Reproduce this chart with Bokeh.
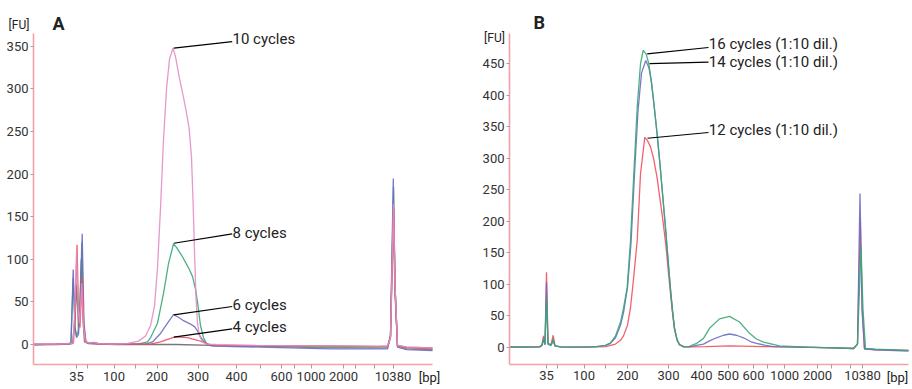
from bokeh.plotting import figure
from bokeh.layouts import row
from bokeh.models import FixedTicker, Label, LinearAxis
from bokeh.embed import file_html
from bokeh.resources import INLINE

# ---- x axis: migration position of the ladder fragments (bp) ----
ladder_bp = [35, 50, 100, 150, 200, 300, 400, 500, 600, 700, 1000, 2000, 3000, 7000, 10380]
ladder_pos_a = [40, 51, 77.5, 99, 120.5, 161.5, 200, 224, 245, 258, 274.5, 307, 319, 338, 356.5]
ladder_pos_b = [41, 52, 78.5, 100, 122, 163, 196, 222.5, 248, 262, 279, 312, 326, 345, 357]
labels_a = [35, 100, 200, 300, 400, 600, 1000, 2000, 10380]
labels_b = [35, 100, 200, 300, 400, 500, 600, 1000, 2000, 10380]
yticks_a = [0, 50, 100, 150, 200, 250, 300, 350]
yticks_b = [0, 50, 100, 150, 200, 250, 300, 350, 400, 450]

# ---- panel A traces (migration position, FU) ----
a_blank = [(-3, -0.5), (20, 0), (33, 0.5), (36, 1), (38.5, 30), (40.3, 70), (42, 20), (43, 35), (44.8, 100),
           (46.5, 30), (48, 3), (52, 1), (60, 0.5), (80, 0), (110, 0), (140, 0), (175, -1), (220, -1.5),
           (280, -2), (340, -2.5), (351, -2), (354, 10), (356.7, 150), (358.5, 60), (361, -1), (370, -3), (396, -4)]
a_10cyc = [(-3, 0.5), (20, 0.5), (33, 1), (36.5, 2), (38.5, 45), (40, 108), (41.8, 40), (43, 25), (45.3, 72),
           (47, 20), (49, 3), (53, 1.5), (57, 2.5), (62, 1), (75, 0.5), (90, 1), (102, 4), (109, 10), (114, 22),
           (118, 45), (121, 90), (124, 160), (127, 240), (130, 300), (133, 335), (136.5, 348), (139, 338),
           (143, 312), (147, 290), (150, 272), (152.5, 255), (155, 220), (156.5, 170), (158, 110), (159.5, 55),
           (161, 25), (163, 10), (166, 3), (170, 0.5), (180, 0), (220, -1), (280, -1.5), (340, -2), (351, -2),
           (354, 8), (357, 165), (358.5, 70), (361, -1), (370, -3), (396, -4)]
a_8cyc = [(-3, 0), (20, 0.5), (33, 1), (34.5, 3), (36.7, 78), (38.5, 20), (40, 10), (41.5, 15), (43.5, 40),
          (45.3, 120), (47, 25), (49, 3), (53, 1.5), (57, 2), (62, 1), (75, 0.5), (90, 0.5), (101, 0.5),
          (111, 3), (114, 8), (121, 25), (127, 60), (132, 95), (137, 118), (140, 114), (146, 103), (152, 90),
          (156, 80), (159, 65), (161, 50), (164, 22), (167, 8), (170, 1), (176, -1), (220, -2), (280, -3.5),
          (340, -4), (351, -4), (354, 10), (357, 185), (358.5, 70), (361, -2), (370, -5), (396, -6)]
a_6cyc = [(-3, 0), (20, 0.5), (33, 1), (34.5, 3), (36.7, 88), (38.5, 20), (40, 8), (42, 12), (44, 45),
          (45.7, 130), (47.5, 25), (49.5, 3), (53, 1.5), (57, 2), (62, 1), (75, 0.5), (90, 0.5), (109, 0.5),
          (116, 3), (124, 13), (131, 25), (137, 35), (142, 32), (147, 28), (154, 24), (158, 21), (161, 16),
          (164, 9), (167, 4), (171, 0), (176, -2), (224, -3), (294, -5), (344, -5), (351, -5), (354, 10),
          (356.8, 195), (358.5, 70), (361, -3), (370, -6), (396, -7)]
a_4cyc = [(-3, 0.5), (20, 0.5), (33, 1), (37, 2), (38.8, 40), (40.5, 117), (42, 40), (43.5, 20), (45.7, 80),
          (47.5, 15), (49.5, 3), (53, 1.5), (57, 2.5), (62, 1), (75, 0.5), (90, 0.5), (114, 0.5), (124, 3),
          (131, 6), (139, 9), (151, 8), (161, 5), (166, 3), (171, 0.5), (180, -1), (240, -1.5), (300, -2),
          (345, -2.5), (351, -2.5), (354, 8), (357.2, 160), (358.8, 60), (361, -2), (370, -4), (396, -5)]

# ---- panel B traces ----
b_16cyc = [(4, 0), (20, 0), (34, 0.5), (36.5, 3), (38, 14), (39.5, 4), (41, 80), (42.5, 5), (45.5, 3),
           (47.7, 13), (49.5, 2), (55, 0.5), (70, 0), (85, 0.5), (91, 1), (100, 3), (105, 7), (110, 18),
           (115, 40), (118, 62), (121.7, 95), (125, 169), (128.3, 275), (131.7, 381), (135, 450), (137.7, 471),
           (140.5, 466), (143.3, 450), (146, 420), (148.5, 385), (151.5, 340), (154.5, 290), (157.5, 235),
           (160.5, 180), (163, 130), (165, 92), (167, 58), (169, 30), (171.5, 12), (174, 4), (178, 1),
           (184, 1.5), (191, 6), (198, 14), (204, 30), (214, 45), (224, 49), (234, 40), (244, 22), (251, 13),
           (258, 8), (274, 2), (301, 0), (325, -1), (348, -2), (352, 5), (355.5, 160), (357.5, 60), (360, -2),
           (370, -3), (403, -5)]
b_14cyc = [(4, 0), (20, 0), (34, 0.5), (36.5, 3), (38, 12), (39.5, 4), (41, 103), (42.5, 5), (45.5, 3),
           (47.7, 10), (49.5, 2), (55, 0.5), (70, 0), (85, 0.5), (91, 1), (100, 3), (105, 6), (110, 15),
           (115, 35), (118, 55), (122, 95), (125.5, 165), (129, 275), (132.5, 375), (136, 435), (140.3, 455),
           (143.5, 443), (146, 420), (148.5, 385), (151.5, 340), (154.5, 290), (157.5, 235), (160.5, 180),
           (163, 130), (165, 92), (167, 58), (169, 30), (171.5, 12), (174, 4), (178, 0.5), (184, 0.5), (191, 3),
           (198, 5), (204, 10), (211, 15), (218, 19), (224, 21), (231, 19), (238, 15), (245, 9), (251, 6),
           (260, 3), (268, 1), (290, 0), (330, -1), (348, -2), (352, 5), (354.5, 244), (356.5, 60), (359, -3),
           (370, -4), (403, -6)]
b_12cyc = [(4, 0.5), (20, 0.5), (34, 0.5), (36.5, 4), (38, 18), (39.5, 5), (41, 119), (42.5, 6), (45.5, 4),
           (47.7, 19), (49.5, 2), (55, 0.5), (70, 0), (85, 0.5), (91, 0.5), (100, 1), (110, 5), (115, 11),
           (118, 18), (122, 35), (125, 63), (127.5, 100), (131.7, 169), (135, 275), (139.3, 333), (142, 328),
           (145, 318), (148, 300), (151.5, 270), (154.5, 235), (157.5, 200), (160.5, 160), (163, 118), (165, 85),
           (167, 55), (169, 29), (171.5, 12), (174, 4), (178, 1), (184, 0.5), (200, 1), (224, 2), (260, 1),
           (300, 0), (330, -1), (348, -2), (352, 5), (354.8, 205), (356.8, 60), (359, -2), (370, -4), (403, -5)]

FONT = "Roboto"
AXIS_COL = "#f2a1a9"
PINK, GREEN, BLUE, RED, GRAY = "#e48cc3", "#3aa776", "#6b6bc2", "#f0505e", "#555555"


def make_fig(xr, yr, xb, yb, yticks, ladder_pos, xlabels):
    p = figure(width=456, height=389, x_range=xr, y_range=yr, output_backend="svg",
               toolbar_location=None, min_border=0, x_axis_location=None, y_axis_location=None)
    p.outline_line_color = None
    p.grid.visible = False
    xax = LinearAxis(fixed_location=yb[0], bounds=xb)
    yax = LinearAxis(fixed_location=xb[0], bounds=yb)
    for ax in (xax, yax):
        ax.axis_line_color = AXIS_COL
        ax.axis_line_width = 1.6
        ax.major_tick_line_color = "#a0a0a0"
        ax.major_tick_in = 0
        ax.minor_tick_line_color = None
        ax.major_label_text_font = FONT
        ax.major_label_text_font_size = "13px"
        ax.major_label_text_color = "#333333"
    yax.ticker = FixedTicker(ticks=yticks)
    yax.major_tick_out = 3
    yax.major_label_standoff = 2
    xax.ticker = FixedTicker(ticks=ladder_pos)
    xax.major_tick_out = 4
    xax.major_label_standoff = 3
    xax.major_label_overrides = {pos: (str(bp) if bp in xlabels else "")
                                 for pos, bp in zip(ladder_pos, ladder_bp)}
    p.add_layout(xax, "below")
    p.add_layout(yax, "left")
    return p


def trace(p, pts, color, alpha=0.9):
    xs, ys = zip(*pts)
    p.line(list(xs), list(ys), line_color=color, line_width=1.3, line_alpha=alpha)


def note(p, x0, y0, x1, y1, ty, text):
    p.segment(x0=[x0], y0=[y0], x1=[x1], y1=[y1], line_color="black", line_width=1.2)
    p.add_layout(Label(x=x1 + 0.3, y=ty, text=text, text_font=FONT, text_font_size="15px",
                       text_color="#222222", text_baseline="middle", text_align="left"))


def txt(p, x, y, text, size, bold=False, align="left", baseline="middle"):
    p.add_layout(Label(x=x, y=y, text=text, text_font=FONT, text_font_size=size,
                       text_font_style="bold" if bold else "normal", text_color="#222222",
                       text_align=align, text_baseline=baseline))


# ---- panel A ----
pa = make_fig((-36, 420), (-52.8, 403.8), (-3, 396), (-23.5, 365.4), yticks_a, ladder_pos_a, labels_a)
trace(pa, a_blank, GRAY, 0.8)
trace(pa, a_8cyc, GREEN)
trace(pa, a_6cyc, BLUE)
trace(pa, a_4cyc, RED)
trace(pa, a_10cyc, PINK)
note(pa, 137.3, 347.8, 195.7, 355.6, 358.3, "10 cycles")
note(pa, 137.3, 118.9, 195.7, 129.9, 130.5, "8 cycles")
note(pa, 137.3, 34.9, 195.7, 44.6, 46.5, "6 cycles")
note(pa, 137.3, 8.6, 195.7, 18.4, 20.0, "4 cycles")
txt(pa, 16, 376.5, "A", "18px", bold=True, baseline="alphabetic")
txt(pa, -17.5, 374.5, "[FU]", "12px", align="center")
txt(pa, 393, -38.5, "[bp]", "13px", align="center")

# ---- panel B ----
pb = make_fig((-49, 407), (-67.1, 550.3), (4, 403), (-27, 497.6), yticks_b, ladder_pos_b, labels_b)
trace(pb, b_12cyc, RED)
trace(pb, b_14cyc, BLUE)
trace(pb, b_16cyc, GREEN)
note(pb, 141.7, 465.7, 203, 475.7, 481, "16 cycles (1:10 dil.)")
note(pb, 144, 450, 203, 452.4, 452.5, "14 cycles (1:10 dil.)")
note(pb, 142, 331.7, 203, 340.8, 345.5, "12 cycles (1:10 dil.)")
txt(pb, 28, 515.4, "B", "18px", bold=True, baseline="alphabetic")
txt(pb, -11, 491.5, "[FU]", "12px", align="center")
txt(pb, 392, -48, "[bp]", "13px", align="center")

layout = row(pa, pb)
open("out.html", "w").write(file_html(layout, INLINE))
